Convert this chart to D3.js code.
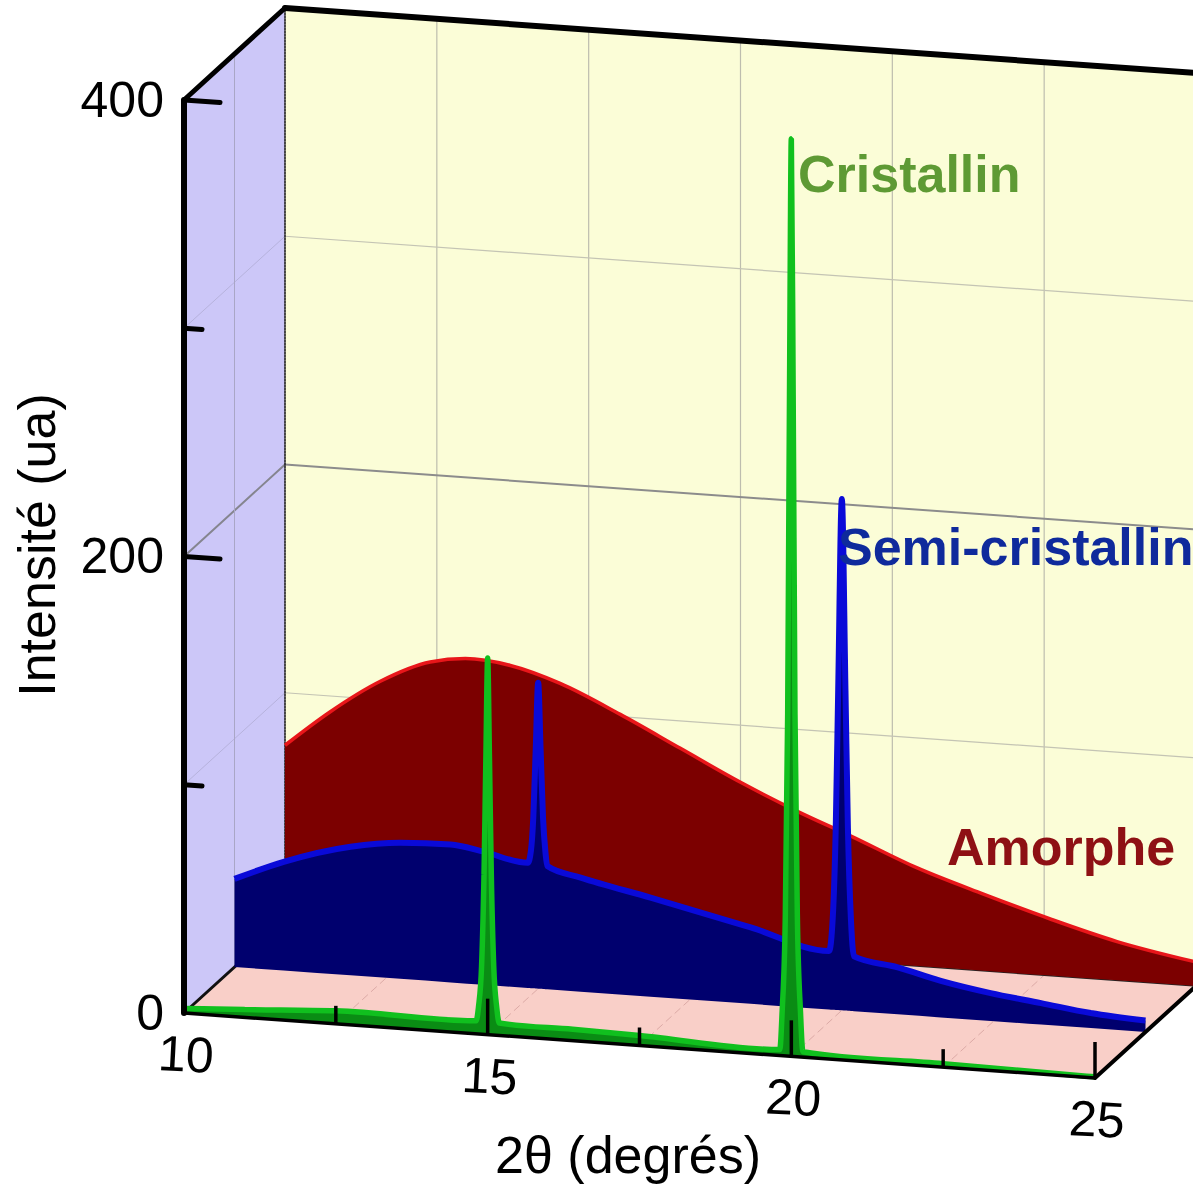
<!DOCTYPE html>
<html><head><meta charset="utf-8">
<script src="https://cdn.jsdelivr.net/npm/d3@7"></script>
<style>html,body{margin:0;padding:0;background:#fff;overflow:hidden}svg{display:block}text{font-family:"Liberation Sans",Arial,sans-serif}</style>
</head><body><svg id="c" width="1193" height="1185"></svg>
<script>
// Data
const amorpheX = [10,10.74,11.57,12.39,12.97,13.71,14.53,15.52,16.51,17.5,18.48,19.31,20.41,21.5,22.6,23.7,25];
const amorpheY = [77,93,108,118,120.6,119,112.7,101,88,75,63.6,55,43,33.6,24.8,17,10.5];
const semiX = [10,10.81,11.91,12.73,13.56,14.1,14.83,14.88,14.92,14.96,15,15.04,15.08,15.12,15.15,15.7,16.85,18.5,19.79,19.85,19.9,19.94,20,20.06,20.1,20.15,20.2,20.92,21.63,22.45,23.28,24.1,25];
const semiY = [38.6,47.6,56.3,59.6,60.4,58.3,54.8,60,75,105,134,105,75,60,54,50,43.4,33.5,25.6,40,80,140,224,140,80,40,24,20.6,16,12.2,9.4,6.6,5];
const cristX = [10,11,12.5,14.81,14.85,14.9,14.94,14.97,15,15.03,15.06,15.1,15.15,15.19,16.4,17.5,19.81,19.85,19.9,19.94,19.97,20,20.03,20.06,20.1,20.15,20.19,22.5,25];
const cristY = [2,3.4,5.7,5.7,12,30,70,120,165,120,70,30,12,5.5,5,4.4,2.6,20,60,150,290,402,290,150,60,20,2.4,1.5,0.5];
const xMajor = [10,15,20,25];
const xMinor = [12.5,17.5,22.5];
const xGrid = [12.5,15,17.5,20,22.5];
const yMajor = [0,200,400];
const yMinor = [100,300];
const yGrid = [100,200,300];

// Oblique projection built from linear scales
const xPx = d3.scaleLinear().domain([10,25]).range([184,1095]);
const xSkew = d3.scaleLinear().domain([10,25]).range([0,65]);
const yPx = d3.scaleLinear().domain([0,400]).range([1013,100]);
const zX = d3.scaleLinear().domain([0,1]).range([0,101]);
const zY = d3.scaleLinear().domain([0,1]).range([0,-92]);
const PX = (x,z)=>xPx(x)+zX(z);
const PY = (x,y,z)=>yPx(y)+xSkew(x)+zY(z);
const svg = d3.select("#c");
const poly = (pts,fill)=>svg.append("polygon").attr("points",pts.map(p=>[PX(p[0],p[2]),PY(p[0],p[1],p[2])].join(",")).join(" ")).attr("fill",fill);
const seg = (a,b,col,w,dash)=>svg.append("line")
  .attr("x1",PX(a[0],a[2])).attr("y1",PY(a[0],a[1],a[2]))
  .attr("x2",PX(b[0],b[2])).attr("y2",PY(b[0],b[1],b[2]))
  .attr("stroke",col).attr("stroke-width",w).attr("stroke-dasharray",dash||null).attr("stroke-linecap","round");

// Walls
poly([[10,0,1],[25,0,1],[25,400,1],[10,400,1]],"#fbfdd7");
poly([[10,0,0],[10,0,1],[10,400,1],[10,400,0]],"#ccc7f8");
poly([[10,0,0],[25,0,0],[25,0,1],[10,0,1]],"#f9cfc8");

// Grid
xGrid.forEach(x=>{
  seg([x,0,1],[x,400,1],"#bdbdae",1.2);
  seg([x,0,0],[x,0,1],"#dcaaa6",1,"7 5");
});
yGrid.forEach(y=>{
  seg([10,y,1],[25,y,1],y===200?"#8c8c8c":"#c4c4b4",y===200?2:1.2);
  seg([10,y,0],[10,y,1],y===200?"#85858f":"#b6b2dc",y===200?2:1);
});
seg([10,0,0.5],[10,400,0.5],"#a9a6c6",1);

// Frame lines that the series hide
seg([10,0,1],[10,400,1],"#222",1.6,"2 1");
seg([10,0,0],[10,0,1],"#111",3);
seg([10,0,1],[25,0,1],"#222",1.5);

// Series
function series(xs,ys,z,fill,stroke,w){
  const d = xs.map((x,i)=>({x,y:ys[i]}));
  svg.append("path").datum(d).attr("fill",fill)
    .attr("d",d3.area().curve(d3.curveMonotoneX).x(p=>PX(p.x,z)).y0(p=>PY(p.x,0,z)).y1(p=>PY(p.x,p.y,z)));
  svg.append("path").datum(d).attr("fill","none").attr("stroke",stroke).attr("stroke-width",w)
    .attr("stroke-linejoin","bevel")
    .attr("d",d3.line().curve(d3.curveMonotoneX).x(p=>PX(p.x,z)).y(p=>PY(p.x,p.y,z)));
}
series(amorpheX,amorpheY,1,"#7c0000","#e8161a",3.5);
series(semiX,semiY,0.5,"#00006e","#0a0ad8",6);
series(cristX,cristY,0,"#0a8c14","#10c01e",5.5);

// Frame
seg([25,0,0],[25,0,1],"#000",4);
seg([10,0,0],[25,0,0],"#000",3.5);
seg([10,400,0],[10,400,1],"#000",5);
seg([10,400,1],[25,400,1],"#000",6);
seg([10,0,0],[10,400,0],"#000",6);

// Ticks
const tickUp = (x,len)=>svg.append("line").attr("x1",PX(x,0)).attr("x2",PX(x,0))
  .attr("y1",PY(x,0,0)).attr("y2",PY(x,0,0)-len).attr("stroke","#000").attr("stroke-width",3.5);
xMajor.slice(1).forEach(x=>tickUp(x,36));
xMinor.forEach(x=>tickUp(x,18));
const tickRight = (y,dx)=>seg([10,y,0],[xPx.invert(184+dx),y,0],"#000",5);
yMajor.filter(y=>y>0).forEach(y=>tickRight(y,36));
yMinor.forEach(y=>tickRight(y,18));

// Labels
const fs = 50;
svg.selectAll("text.xt").data(xMajor).join("text").attr("class","xt")
  .attr("font-size",fs).attr("text-anchor","middle").attr("dy","0.35em").attr("fill","#000")
  .attr("transform",x=>`translate(${PX(x,0)+2},${PY(x,0,0)+41}) rotate(3)`)
  .text(x=>x);
svg.selectAll("text.yt").data(yMajor).join("text").attr("class","yt")
  .attr("font-size",fs).attr("text-anchor","end").attr("dy","0.35em").attr("fill","#000")
  .attr("x",164).attr("y",y=>yPx(y)-1)
  .text(y=>y);
svg.append("text").attr("x",628).attr("y",1173).attr("text-anchor","middle").attr("font-size",52).attr("fill","#000")
  .text("2θ (degrés)");
svg.append("text").attr("transform","translate(55,545) rotate(-90)").attr("text-anchor","middle").attr("font-size",52).attr("fill","#000")
  .text("Intensité (ua)");
const lab = (t,x,y,c)=>svg.append("text").attr("x",x).attr("y",y).attr("font-size",52).attr("font-weight","bold").attr("fill",c).text(t);
lab("Cristallin",798,192,"#5e9a34");
lab("Semi-cristallin",838,565,"#0f2a9c");
lab("Amorphe",947,865,"#8e1014");
</script></body></html>
